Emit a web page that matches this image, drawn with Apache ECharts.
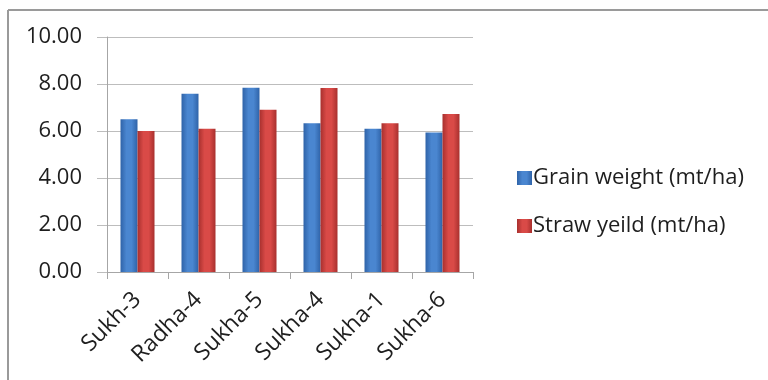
<!DOCTYPE html>
<html>
<head>
<meta charset="utf-8">
<script src="https://cdn.jsdelivr.net/npm/echarts@6/dist/echarts.min.js"></script>
<style>
  html, body { margin: 0; padding: 0; background: #fff; }
  #chart { width: 768px; height: 380px; }
</style>
</head>
<body>
<div id="chart"></div>
<script>
// Varieties and their yields (mt/ha)
const varieties = ['Sukh-3', 'Radha-4', 'Sukha-5', 'Sukha-4', 'Sukha-1', 'Sukha-6'];
const grainWeight = [6.50, 7.58, 7.84, 6.33, 6.10, 5.94];
const strawYield = [6.00, 6.10, 6.90, 7.83, 6.33, 6.72];
const seriesNames = ['Grain weight (mt/ha)', 'Straw yeild (mt/ha)'];
const yTicks = { min: 0, max: 10, step: 2 };

const FONT = '"Open Sans", Lato, sans-serif';
const TEXT = '#1e1e1e';

// Horizontal shading gives the bars a rounded, cylinder-like look
function barShade(edge, mid) {
  return new echarts.graphic.LinearGradient(0, 0, 1, 0, [
    { offset: 0, color: edge },
    { offset: 0.35, color: mid },
    { offset: 0.65, color: mid },
    { offset: 1, color: edge }
  ]);
}
const blueFill = barShade('#2f63a8', '#4a86d0');
const redFill = barShade('#a8302e', '#d94a47');

const chart = echarts.init(document.getElementById('chart'), null, { renderer: 'canvas' });
chart.setOption({
  animation: false,
  backgroundColor: '#ffffff',
  graphic: [
    { type: 'line', shape: { x1: 8, y1: 10, x2: 768, y2: 10 }, style: { stroke: '#9a9a9a', lineWidth: 2 } },
    { type: 'line', shape: { x1: 8, y1: 10, x2: 8, y2: 380 }, style: { stroke: '#9a9a9a', lineWidth: 2 } }
  ],
  grid: { left: 107, right: 295, top: 37, bottom: 108 },
  legend: {
    orient: 'vertical',
    left: 512,
    top: 162,
    itemWidth: 15,
    itemHeight: 14,
    itemGap: 26,
    icon: 'rect',
    textStyle: { fontFamily: FONT, fontSize: 22, color: TEXT, padding: [0, 0, 0, -4] },
    data: seriesNames
  },
  xAxis: {
    type: 'category',
    data: varieties,
    axisLine: { lineStyle: { color: '#a6a6a6', width: 1 } },
    axisTick: { show: true, length: 7, lineStyle: { color: '#a6a6a6' } },
    axisLabel: {
      rotate: 45,
      fontFamily: FONT,
      fontSize: 23,
      color: TEXT,
      margin: 24
    }
  },
  yAxis: {
    type: 'value',
    min: yTicks.min,
    max: yTicks.max,
    interval: yTicks.step,
    axisLine: { show: true, lineStyle: { color: '#a6a6a6', width: 1 } },
    axisTick: { show: true, length: 10, lineStyle: { color: '#bdbdbd' } },
    splitLine: { lineStyle: { color: '#bdbdbd', width: 1 } },
    axisLabel: {
      fontFamily: FONT,
      fontSize: 22,
      color: TEXT,
      margin: 25,
      formatter: v => v.toFixed(2)
    }
  },
  series: [
    {
      name: seriesNames[0],
      type: 'bar',
      data: grainWeight,
      barWidth: 17,
      barGap: '0%',
      itemStyle: { color: blueFill }
    },
    {
      name: seriesNames[1],
      type: 'bar',
      data: strawYield,
      barWidth: 17,
      barGap: '0%',
      itemStyle: { color: redFill }
    }
  ]
});
</script>
</body>
</html>
